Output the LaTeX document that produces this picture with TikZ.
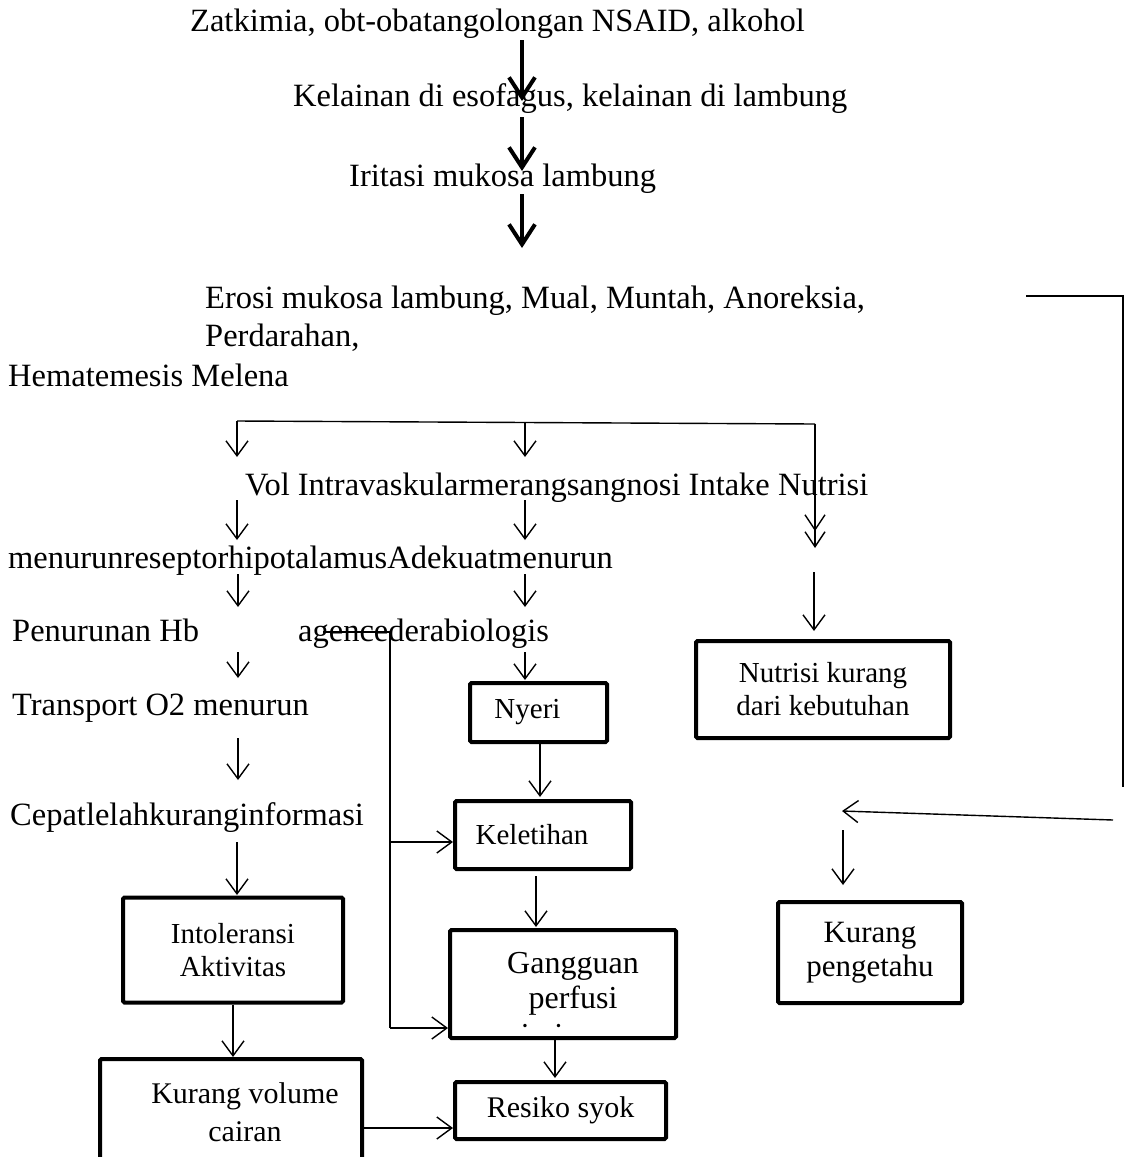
\documentclass[tikz,border=0pt]{standalone}
\usepackage{fontspec}
\setmainfont{Liberation Serif}
\usetikzlibrary{arrows.meta}
\newcommand\fsbig{\fontsize{32.5}{36}\selectfont}
\newcommand\fsbox{\fontsize{30}{35}\selectfont}
\newcommand\fsboxs{\fontsize{29}{33}\selectfont}
\tikzset{
  txt/.style={anchor=base west, inner sep=0pt, font=\fsbig},
  boxnode/.style={draw, line width=4pt, rounded corners=1.5pt, inner sep=0pt, align=center, font=\fsbox},
  arr/.style={line width=1.4pt, -{Straight Barb[length=15pt,width=22pt]}},
  dblarr/.style={line width=1.4pt, -{Straight Barb[length=15pt,width=20pt] Straight Barb[length=15pt,width=20pt,sep=-11pt]}},
  thickarr/.style={line width=4pt, -{Straight Barb[length=20pt,width=26pt]}},
  plain/.style={line width=1.4pt}
}
\begin{document}
\begin{tikzpicture}[x=1pt,y=-1pt]
\clip (0,0) rectangle (1129,1157);
\fill[white] (0,0) rectangle (1129,1157);

% free texts
\node[txt] (t1) at (190,31) {Zatkimia, obt-obatangolongan NSAID, alkohol};
\node[txt] (t2) at (293,106) {Kelainan di esofagus, kelainan di lambung};
\node[txt] (t3) at (349,186) {Iritasi mukosa lambung};
\node[txt] (t4) at (205,308) {Erosi mukosa lambung, Mual, Muntah, Anoreksia,};
\node[txt] (t5) at (205,346) {Perdarahan,};
\node[txt] (t6) at (8,386) {Hematemesis Melena};
\node[txt] (t7) at (245,495) {Vol Intravaskularmerangsangnosi Intake Nutrisi};
\node[txt] (t8) at (8,568) {menurunreseptorhipotalamusAdekuatmenurun};
\node[txt] (t9) at (12,641) {Penurunan Hb};
\node[txt] (t10) at (298,641) {agencederabiologis};
\node[txt] (t11) at (12,715) {Transport O2 menurun};
\node[txt] (t12) at (10,825) {Cepatlelahkuranginformasi};

% boxes
\node[boxnode, minimum width=137pt, minimum height=59pt, font=\fsboxs] (nyeri) at (538.5,712.5) {Nyeri\hspace{22pt}};
\node[boxnode, minimum width=176pt, minimum height=68pt, font=\fsboxs] (kelet) at (543,835) {Keletihan\hspace{22pt}};
\node[boxnode, minimum width=226pt, minimum height=108pt] (gang) at (563,984) {};
\node[anchor=base, align=center, inner sep=0pt, font=\fontsize{32}{35}\selectfont] (gangt) at (573,1008) {Gangguan\\perfusi};
\begin{scope}
\clip (452,1000) rectangle (674,1027.5);
\node[anchor=base, inner sep=0pt, font=\fontsize{32}{35}\selectfont] (gangj) at (573,1045) {jaringan};
\end{scope}
\node[boxnode, minimum width=254pt, minimum height=97pt, font=\fsboxs] (nutri) at (823,689.5) {Nutrisi kurang\\dari kebutuhan};
\node[boxnode, minimum width=220pt, minimum height=105pt, font=\fsboxs] (intol) at (233,950) {Intoleransi\\Aktivitas};
\node[boxnode, minimum width=262pt, minimum height=140pt] (kvol) at (231,1129) {};
\node[anchor=base, align=center, inner sep=0pt, font=\fontsize{30}{38}\selectfont] (kvolt) at (245,1141) {Kurang volume\\cairan};
\node[boxnode, minimum width=211pt, minimum height=57pt] (resiko) at (560.5,1110.5) {Resiko syok};
\node[boxnode, minimum width=184pt, minimum height=101pt, font=\fontsize{31}{34}\selectfont] (kpeng) at (870,952.5) {Kurang\\pengetahu};

% thick arrows at top
\coordinate (a1s) at (522,40);  \coordinate (a1e) at (522,101);
\coordinate (a2s) at (522,117); \coordinate (a2e) at (522,171);
\coordinate (a3s) at (522,194); \coordinate (a3e) at (522,248);
\draw[thickarr] (a1s) -- (a1e);
\draw[thickarr] (a2s) -- (a2e);
\draw[thickarr] (a3s) -- (a3e);

% branch line
\coordinate (bl) at (237,421);
\coordinate (bm) at (525,422);
\coordinate (br) at (815,424);
\draw[plain] (bl) -- (br);
\draw[arr] (bl) -- (237,457);
\draw[arr] (bm) -- (525,457);
\draw[dblarr] (br) -- (815,537);

% row arrows
\draw[arr] (237,500) -- (237,540);
\draw[arr] (525,500) -- (525,540);
\draw[arr] (238,574) -- (238,607);
\draw[arr] (525,574) -- (525,607);
\draw[arr] (238,652) -- (238,678);
\draw[arr] (525,652) -- (525,680);
\draw[arr] (238,738) -- (238,780);
\draw[arr] (237,842) -- (237,895);
\draw[arr] (814,572) -- (814,631);

% box connections
\draw[arr] (nyeri.south -| 540,0) -- (540,797);
\draw[arr] (kelet.south -| 536,0) ++(0,5) -- (536,927);
\draw[arr] (gang.south -| 555,0) -- (555,1078);
\draw[arr] (intol.south -| 233,0) -- (233,1057);
\draw[arr] (362,1128) -- (resiko.west |- 0,1128);

% agence line
\coordinate (ag1) at (323,632);
\coordinate (ag2) at (390,632);
\draw[plain] (ag1) -- (ag2) -- (390,1028);
\draw[arr] (390,1028) -- (gang.west |- 0,1028);
\draw[arr] (390,842) -- (kelet.west |- 0,842);

% right rail
\draw[plain] (1026,296) -- (1123,296) -- (1123,787);
\draw[arr] (1113,820) -- (842,811);
\draw[arr] (843,830) -- (843,885);
\end{tikzpicture}
\end{document}
